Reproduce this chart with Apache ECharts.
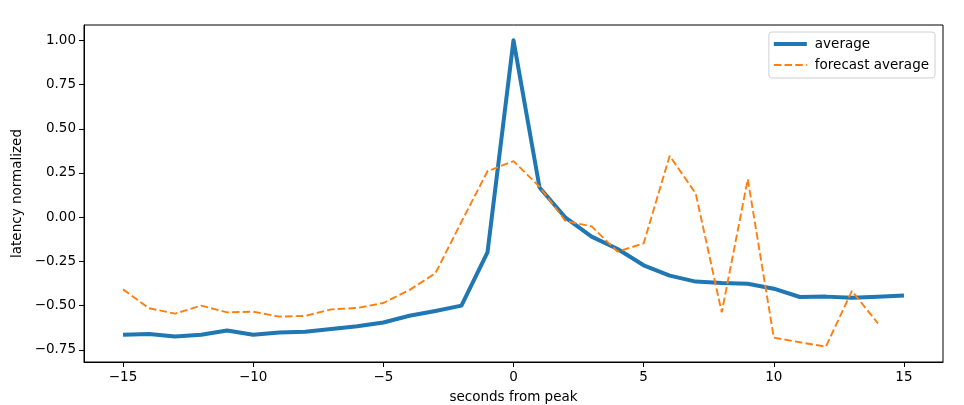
<!DOCTYPE html>
<html>
<head>
<meta charset="utf-8">
<script src="https://cdn.jsdelivr.net/npm/echarts@6/dist/echarts.min.js"></script>
<style>
html,body{margin:0;padding:0;background:#fff;}
#chart{width:964px;height:405px;}
</style>
</head>
<body>
<div id="chart"></div>
<script>
// seconds from peak
const seconds = [-15,-14,-13,-12,-11,-10,-9,-8,-7,-6,-5,-4,-3,-2,-1,0,1,2,3,4,5,6,7,8,9,10,11,12,13,14,15];
const average = [-0.665,-0.66,-0.675,-0.665,-0.64,-0.665,-0.652,-0.648,-0.632,-0.617,-0.595,-0.557,-0.53,-0.50,-0.199,1.0,0.168,-0.003,-0.11,-0.18,-0.272,-0.33,-0.364,-0.372,-0.376,-0.404,-0.451,-0.449,-0.455,-0.45,-0.443];
const forecastSeconds = [-15,-14,-13,-12,-11,-10,-9,-8,-7,-6,-5,-4,-3,-2,-1,0,1,2,3,4,5,6,7,8,9,10,11,12,13,14];
const forecastAverage = [-0.408,-0.515,-0.545,-0.50,-0.538,-0.534,-0.562,-0.558,-0.521,-0.513,-0.485,-0.412,-0.317,-0.026,0.26,0.317,0.172,-0.022,-0.052,-0.195,-0.148,0.347,0.134,-0.538,0.215,-0.681,-0.707,-0.732,-0.417,-0.60];
const xTicks = [-15,-10,-5,0,5,10,15];
const yTicks = [-0.75,-0.5,-0.25,0,0.25,0.5,0.75,1.0];

const FONT = 'DejaVu Sans';
const FS = 13.5;
const minus = s => String(s).replace('-', '\u2212');

const chart = echarts.init(document.getElementById('chart'), null, {renderer:'canvas'});
chart.setOption({
  animation:false,
  backgroundColor:'#fff',
  textStyle:{fontFamily:FONT},
  grid:{left:84,right:21,top:25,bottom:43,containLabel:false,outerBoundsMode:'none',show:true,borderColor:'#000',borderWidth:1,backgroundColor:'transparent'},
  legend:{
    right:29, top:32, orient:'vertical',
    itemWidth:33, itemHeight:10, itemGap:7,
    padding:[5,6,6,3],
    borderColor:'#d0d0d0', borderWidth:1, borderRadius:3, backgroundColor:'rgba(255,255,255,0.8)',
    textStyle:{fontFamily:FONT,fontSize:FS,color:'#000',padding:[0,0,0,3]},
    itemStyle:{opacity:0},
    data:[
      {name:'average', lineStyle:{width:4,color:'#1f77b4',type:'solid'}},
      {name:'forecast average', lineStyle:{width:1.9,color:'#ff7f0e',type:[7.5,3.2]}}
    ]
  },
  xAxis:{
    type:'value', min:-16.5, max:16.5,
    name:'seconds from peak', nameLocation:'middle', nameGap:28, nameMoveOverlap:false,
    nameTextStyle:{fontFamily:FONT,fontSize:FS,color:'#000'},
    axisLine:{show:true,onZero:false,lineStyle:{color:'#000',width:1}},
    axisTick:{show:true,length:5,customValues:xTicks,lineStyle:{color:'#000'}},
    axisLabel:{customValues:xTicks,fontFamily:FONT,fontSize:FS,color:'#000',margin:8,formatter:v=>minus(v)},
    splitLine:{show:false}
  },
  yAxis:{
    type:'value', min:-0.8186, max:1.0866,
    name:'latency normalized', nameLocation:'middle', nameGap:60, nameRotate:90, nameMoveOverlap:false,
    nameTextStyle:{fontFamily:FONT,fontSize:FS,color:'#000'},
    axisLine:{show:true,onZero:false,lineStyle:{color:'#000',width:1}},
    axisTick:{show:true,length:5,customValues:yTicks,lineStyle:{color:'#000'}},
    axisLabel:{customValues:yTicks,fontFamily:FONT,fontSize:FS,color:'#000',margin:8,formatter:v=>minus(Number(v).toFixed(2))},
    splitLine:{show:false}
  },
  series:[
    {
      name:'average', type:'line', symbol:'none',
      data:seconds.map((s,i)=>[s,average[i]]),
      lineStyle:{color:'#1f77b4',width:4,cap:'butt',join:'round'},
      itemStyle:{color:'#1f77b4'}
    },
    {
      name:'forecast average', type:'line', symbol:'none',
      data:forecastSeconds.map((s,i)=>[s,forecastAverage[i]]),
      lineStyle:{color:'#ff7f0e',width:1.9,type:[7.5,3.2]},
      itemStyle:{color:'#ff7f0e'}
    }
  ]
});
</script>
</body>
</html>
